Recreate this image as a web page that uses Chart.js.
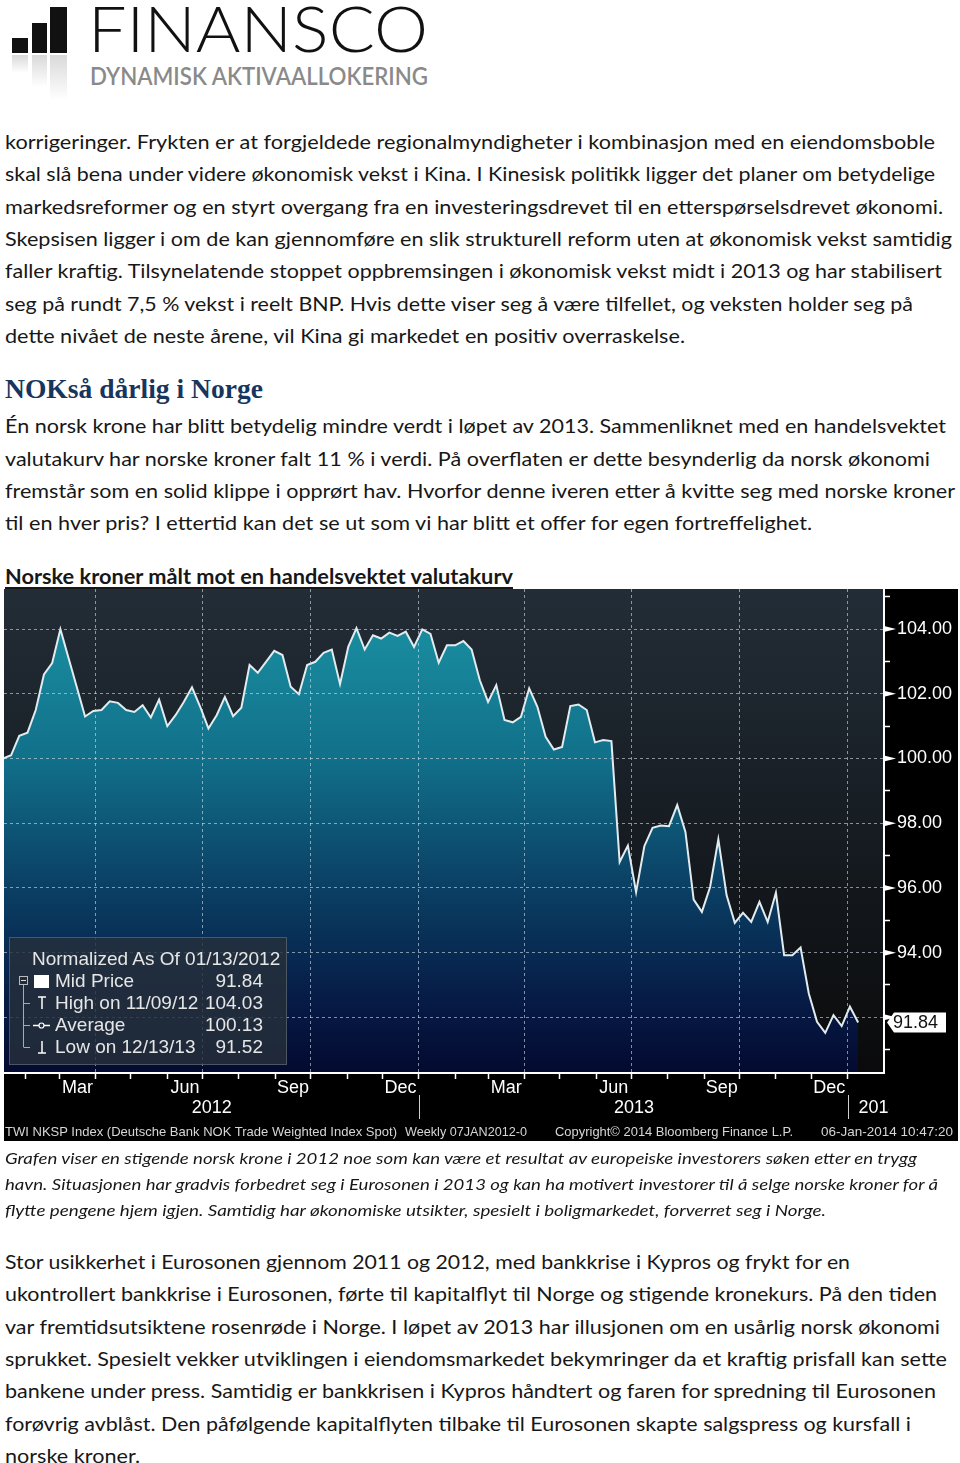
<!DOCTYPE html>
<html lang="no">
<head>
<meta charset="utf-8">
<title>Norske kroner målt mot en handelsvektet valutakurv</title>
<script src="https://cdn.jsdelivr.net/npm/chart.js@4.4.1/dist/chart.umd.min.js"></script>
<style>
  html, body { margin: 0; padding: 0; background: #fff; overflow: hidden; }
  #page { position: relative; width: 960px; height: 1463px; overflow: hidden; background: #fff; }
  .ln { position: absolute; left: 5px; white-space: nowrap; transform-origin: 0 0; color: #171717; }
  .p { font: 20px/24px Lato, "Open Sans", sans-serif; }
  .h { font: bold 27px/31px "Liberation Serif", "DejaVu Serif", serif; color: #17365d; }
  .u { font: bold 20px/24px Lato, sans-serif; text-decoration: underline; text-underline-offset: 3px; text-decoration-thickness: 2px; }
  .c { font: italic 16px/19px Lato, sans-serif; }
  .bar { position: absolute; background: #111; }
  .refl { position: absolute; background: linear-gradient(#d9d9d9, rgba(255,255,255,0)); }
  #chartBox { position: absolute; left: 4px; top: 589px; width: 954px; height: 552px; background: #000; overflow: hidden; }
  #chartBox canvas { position: absolute; left: 0; top: 0; }
  #legend { position: absolute; left: 5px; top: 348px; width: 278px; height: 128px; box-sizing: border-box;
            background: rgba(38, 48, 58, 0.82); border: 1px solid rgba(95, 105, 115, 0.7); }
  .lg { position: absolute; white-space: nowrap; font: 19px/22px "Liberation Sans", Arial, sans-serif; color: #e6e6e6; }
  .ft { position: absolute; top: 535px; white-space: nowrap; transform-origin: 0 0; font: 13px/15px "Liberation Sans", Arial, sans-serif; color: #d6d6d6; }
</style>
</head>
<body>
<div id="page">
  <!-- logo -->
  <div class="bar" style="left:12px; top:38px; width:16px; height:15px;"></div>
  <div class="bar" style="left:32px; top:23px; width:15px; height:30px;"></div>
  <div class="bar" style="left:50px; top:7px; width:17px; height:46px;"></div>
  <div class="refl" style="left:12px; top:55px; width:16px; height:18px;"></div>
  <div class="refl" style="left:32px; top:55px; width:15px; height:32px;"></div>
  <div class="refl" style="left:50px; top:55px; width:17px; height:45px;"></div>
  <div class="ln" data-w="340" style="left:88px; top:-10px; font:300 64px/76.8px Lato, sans-serif; color:#111;">FINANSCO</div>
  <div class="ln" data-w="338" style="left:90px; top:62px; font:600 24px/28.8px Lato, sans-serif; color:#8a8a8a;">DYNAMISK AKTIVAALLOKERING</div>

  <div id="chartBox">
    <canvas id="nok" width="954" height="552"></canvas>
    <div id="legend"></div>
    <svg width="954" height="552" style="position:absolute; left:0; top:0;">
      <rect x="15.5" y="387.5" width="8" height="8" fill="none" stroke="#bbb" stroke-width="1"/>
      <line x1="17" y1="391.5" x2="22" y2="391.5" stroke="#ddd" stroke-width="1"/>
      <line x1="19.5" y1="396" x2="19.5" y2="458" stroke="#aaa" stroke-width="1"/>
      <line x1="19.5" y1="414.5" x2="26" y2="414.5" stroke="#aaa" stroke-width="1"/>
      <line x1="19.5" y1="436.5" x2="26" y2="436.5" stroke="#aaa" stroke-width="1"/>
      <line x1="19.5" y1="458.5" x2="26" y2="458.5" stroke="#aaa" stroke-width="1"/>
      <rect x="30" y="386" width="15" height="13" fill="#fff"/>
      <line x1="34" y1="408" x2="42" y2="408" stroke="#fff" stroke-width="1.5"/>
      <line x1="38" y1="408" x2="38" y2="420" stroke="#fff" stroke-width="1.5"/>
      <line x1="29" y1="436.5" x2="46" y2="436.5" stroke="#fff" stroke-width="1.5"/>
      <circle cx="37.5" cy="436.5" r="2.5" fill="#26303a" stroke="#fff" stroke-width="1.2"/>
      <line x1="38" y1="452" x2="38" y2="464" stroke="#fff" stroke-width="1.5"/>
      <line x1="34" y1="464" x2="42" y2="464" stroke="#fff" stroke-width="1.5"/>
    </svg>
    <div class="ft" data-w="392" style="left:1px;">TWI NKSP Index (Deutsche Bank NOK Trade Weighted Index Spot)</div>
    <div class="ft" data-w="122" style="left:401px;">Weekly 07JAN2012-0</div>
    <div class="ft" data-w="238" style="left:551px;">Copyright© 2014 Bloomberg Finance L.P.</div>
    <div class="ft" data-w="132" style="left:817px;">06-Jan-2014 10:47:20</div>
  </div>
</div>

<script>
// ---- chart data ----
// weekly fixings of the NOK trade weighted index, normalized to 100 on 13 Jan 2012
const navValues = [
  100.00, 100.10, 100.70, 100.80, 101.50, 102.60, 102.95, 104.00, 103.10, 102.20,
  101.30, 101.47, 101.50, 101.77, 101.72, 101.50, 101.44, 101.65, 101.27, 101.82,
  101.00, 101.34, 101.75, 102.20, 101.60, 100.93, 101.34, 101.90, 101.31, 101.57,
  102.89, 102.65, 102.99, 103.33, 103.20, 102.22, 101.99, 102.89, 102.99, 103.27,
  103.37, 102.30, 103.45, 104.03, 103.37, 103.81, 103.71, 103.89, 103.79, 103.92,
  103.45, 103.99, 103.85, 102.96, 103.50, 103.50, 103.63, 103.37, 102.42, 101.75,
  102.27, 101.19, 101.12, 101.29, 102.17, 101.60, 100.67, 100.28, 100.36, 101.62,
  101.67, 101.50, 100.50, 100.57, 100.54, 96.80, 97.31, 95.87, 97.29, 97.86,
  97.93, 97.91, 98.56, 97.73, 95.64, 95.26, 96.03, 97.50, 95.78, 94.92,
  95.23, 94.95, 95.57, 94.95, 95.85, 93.92, 93.92, 94.16, 92.74, 91.86,
  91.52, 92.07, 91.73, 92.33, 91.84
];
const firstFixing = [2012, 0, 13];   // first weekly fixing
const yTickValues = [91, 92, 93, 94, 95, 96, 97, 98, 99, 100, 101, 102, 103, 104, 105];
const monthNames = ['Jan', 'Feb', 'Mar', 'Apr', 'May', 'Jun', 'Jul', 'Aug', 'Sep', 'Oct', 'Nov', 'Dec'];
const labelledMonths = ['Mar', 'Jun', 'Sep', 'Dec'];
const yearLabels = ['2012', '2013', '2014'];
const legendTitle = 'Normalized As Of 01/13/2012';
const legendRows = [
  ['Mid Price', '91.84'],
  ['High on 11/09/12', '104.03'],
  ['Average', '100.13'],
  ['Low on 12/13/13', '91.52']
];

// ---- page text ----
const textLines = [
  ['p', 141, 935, 'korrigeringer. Frykten er at forgjeldede regionalmyndigheter i kombinasjon med en eiendomsboble'],
  ['p', 173.5, 935, 'skal slå bena under videre økonomisk vekst i Kina. I Kinesisk politikk ligger det planer om betydelige'],
  ['p', 206, 943, 'markedsreformer og en styrt overgang fra en investeringsdrevet til en etterspørselsdrevet økonomi.'],
  ['p', 238, 952, 'Skepsisen ligger i om de kan gjennomføre en slik strukturell reform uten at økonomisk vekst samtidig'],
  ['p', 270.5, 942, 'faller kraftig. Tilsynelatende stoppet oppbremsingen i økonomisk vekst midt i 2013 og har stabilisert'],
  ['p', 303, 913, 'seg på rundt 7,5 % vekst i reelt BNP. Hvis dette viser seg å være tilfellet, og veksten holder seg på'],
  ['p', 335, 685, 'dette nivået de neste årene, vil Kina gi markedet en positiv overraskelse.'],
  ['h', 390, 263, 'NOKså dårlig i Norge'],
  ['p', 425, 946, 'Én norsk krone har blitt betydelig mindre verdt i løpet av 2013. Sammenliknet med en handelsvektet'],
  ['p', 458, 930, 'valutakurv har norske kroner falt 11 % i verdi. På overflaten er dette besynderlig da norsk økonomi'],
  ['p', 490, 955, 'fremstår som en solid klippe i opprørt hav. Hvorfor denne iveren etter å kvitte seg med norske kroner'],
  ['p', 522, 812, 'til en hver pris? I ettertid kan det se ut som vi har blitt et offer for egen fortreffelighet.'],
  ['u', 576, 513, 'Norske kroner målt mot en handelsvektet valutakurv'],
  ['c', 1158, 917, 'Grafen viser en stigende norsk krone i 2012 noe som kan være et resultat av europeiske investorers søken etter en trygg'],
  ['c', 1184, 938, 'havn. Situasjonen har gradvis forbedret seg i Eurosonen i 2013 og kan ha motivert investorer til å selge norske kroner for å'],
  ['c', 1210, 826, 'flytte pengene hjem igjen. Samtidig har økonomiske utsikter, spesielt i boligmarkedet, forverret seg i Norge.'],
  ['p', 1261, 850, 'Stor usikkerhet i Eurosonen gjennom 2011 og 2012, med bankkrise i Kypros og frykt for en'],
  ['p', 1293, 937, 'ukontrollert bankkrise i Eurosonen, førte til kapitalflyt til Norge og stigende kronekurs. På den tiden'],
  ['p', 1326, 940, 'var fremtidsutsiktene rosenrøde i Norge. I løpet av 2013 har illusjonen om en usårlig norsk økonomi'],
  ['p', 1358, 947, 'sprukket. Spesielt vekker utviklingen i eiendomsmarkedet bekymringer da et kraftig prisfall kan sette'],
  ['p', 1390, 936, 'bankene under press. Samtidig er bankkrisen i Kypros håndtert og faren for spredning til Eurosonen'],
  ['p', 1423, 911, 'forøvrig avblåst. Den påfølgende kapitalflyten tilbake til Eurosonen skapte salgspress og kursfall i'],
  ['p', 1455, 140, 'norske kroner.']
];
const topShift = { p: 12.5, h: 15.7, u: 12.5, c: 10 };

const page = document.getElementById('page');
textLines.forEach(([cls, mid, right, text]) => {
  const el = document.createElement('div');
  el.className = 'ln ' + cls;
  el.style.top = (mid - topShift[cls]) + 'px';
  el.dataset.w = right - 5;
  el.textContent = text;
  page.appendChild(el);
});

// legend box text
const chartBox = document.getElementById('chartBox');
function addLegendText(text, left, baseline, alignRight) {
  const el = document.createElement('div');
  el.className = 'lg';
  el.textContent = text;
  el.style.top = (baseline - 17.6) + 'px';
  if (alignRight) el.style.right = (954 - left) + 'px'; else el.style.left = left + 'px';
  chartBox.appendChild(el);
}
addLegendText(legendTitle, 28, 377);
legendRows.forEach(([label, value], i) => {
  addLegendText(label, 51, 399 + i * 22);
  addLegendText(value, 259, 399 + i * 22, true);
});

function fitAll() {
  document.querySelectorAll('[data-w]').forEach(el => {
    el.style.transform = 'none';
    const w = el.getBoundingClientRect().width;
    if (w > 0) el.style.transform = 'scaleX(' + (+el.dataset.w / w) + ')';
  });
}
fitAll();
if (document.fonts && document.fonts.ready) document.fonts.ready.then(fitAll);

// ---- axes helpers (x values are days counted from 1 Jan 2012) ----
const DAY0 = Date.UTC(2012, 0, 1);
const dayOf = (y, m, d) => (Date.UTC(y, m, d) - DAY0) / 864e5;
const startDay = dayOf(firstFixing[0], firstFixing[1], firstFixing[2]);
const points = navValues.map((v, i) => ({ x: startDay + 7 * i, y: v }));

const monthStarts = [];
for (let m = 1; m <= 24; m++) monthStarts.push({ day: dayOf(2012, m, 1), month: m % 12 });
const xTicks = [];
const labelAt = new Map();
const quarterDays = new Set();
const monthDays = new Set();
monthStarts.forEach((ms, i) => {
  xTicks.push(ms.day);
  monthDays.add(ms.day);
  if (ms.month % 3 === 0) quarterDays.add(ms.day);
  const name = monthNames[ms.month];
  if (labelledMonths.includes(name) && i + 1 < monthStarts.length) {
    const mid = (ms.day + monthStarts[i + 1].day) / 2;
    xTicks.push(mid);
    labelAt.set(mid, name);
  }
});
xTicks.sort((a, b) => a - b);
const yearStarts = [dayOf(2013, 0, 1), dayOf(2014, 0, 1)];

const AX_FONT = '"Liberation Sans", Arial, sans-serif';
const GRID = 'rgba(215, 222, 228, 0.6)';
const NONE = 'rgba(0,0,0,0)';
const lastValue = navValues[navValues.length - 1];

// keep the plot area flush with the canvas edges
function noPadding(s) {
  s.paddingTop = 0;
  s.paddingBottom = 0;
  s.paddingLeft = 0;
  s.paddingRight = 0;
}

const bloombergDecor = {
  id: 'bloombergDecor',
  beforeDraw(chart) {
    const { ctx, chartArea: a } = chart;
    const g = ctx.createLinearGradient(0, a.top, 0, a.bottom);
    g.addColorStop(0, '#232d37');
    g.addColorStop(0.5, '#161c22');
    g.addColorStop(1, '#0a0a0b');
    ctx.save();
    ctx.fillStyle = g;
    ctx.fillRect(a.left, a.top, a.right - a.left, a.bottom - a.top);
    ctx.restore();
  },
  afterDraw(chart) {
    const { ctx, chartArea: a, scales: { x, y } } = chart;
    ctx.save();
    // arrow heads on the labelled price ticks
    ctx.fillStyle = '#fff';
    yTickValues.filter(v => v % 2 === 0).forEach(v => {
      const py = y.getPixelForValue(v);
      ctx.beginPath();
      ctx.moveTo(a.right, py - 3);
      ctx.lineTo(a.right + 12, py);
      ctx.lineTo(a.right, py + 3);
      ctx.closePath();
      ctx.fill();
    });
    // last price flag
    const py = y.getPixelForValue(lastValue);
    ctx.beginPath();
    ctx.moveTo(a.right + 3, py);
    ctx.lineTo(a.right + 10, py - 10);
    ctx.lineTo(a.right + 62, py - 10);
    ctx.lineTo(a.right + 62, py + 10);
    ctx.lineTo(a.right + 10, py + 10);
    ctx.closePath();
    ctx.fillStyle = '#fff';
    ctx.fill();
    ctx.fillStyle = '#111';
    ctx.font = '18px ' + AX_FONT;
    ctx.textBaseline = 'middle';
    ctx.textAlign = 'left';
    ctx.fillText(lastValue.toFixed(2), a.right + 9, py + 1);

    // year separators and year labels
    const sepX = yearStarts.map(d => Math.round(x.getPixelForValue(d)) + 0.5);
    ctx.strokeStyle = '#cfcfcf';
    ctx.lineWidth = 1;
    sepX.forEach(sx => {
      ctx.beginPath();
      ctx.moveTo(sx, a.bottom + 22);
      ctx.lineTo(sx, a.bottom + 46);
      ctx.stroke();
    });
    ctx.fillStyle = '#fff';
    ctx.font = '18px ' + AX_FONT;
    ctx.textAlign = 'center';
    const yearY = a.bottom + 35;
    ctx.fillText(yearLabels[0], (a.left + sepX[0]) / 2, yearY);
    ctx.fillText(yearLabels[1], (sepX[0] + sepX[1]) / 2, yearY);
    ctx.beginPath();
    ctx.rect(sepX[1] + 1, a.bottom + 20, a.right + 4 - sepX[1], 30);
    ctx.clip();
    ctx.textAlign = 'left';
    ctx.fillText(yearLabels[2], sepX[1] + 10, yearY);
    ctx.restore();
  }
};

new Chart(document.getElementById('nok'), {
  type: 'line',
  data: {
    datasets: [{
      data: points,
      borderColor: '#e2ecef',
      borderWidth: 2,
      pointRadius: 0,
      tension: 0,
      fill: 'start',
      backgroundColor(c) {
        const { ctx, chartArea } = c.chart;
        if (!chartArea) return NONE;
        const g = ctx.createLinearGradient(0, chartArea.top, 0, chartArea.bottom);
        g.addColorStop(0, '#1c95a6');
        g.addColorStop(0.35, '#11708a');
        g.addColorStop(0.6, '#0b4266');
        g.addColorStop(0.85, '#061b46');
        g.addColorStop(1, '#040a30');
        return g;
      }
    }]
  },
  options: {
    responsive: false,
    animation: false,
    devicePixelRatio: 1,
    events: [],
    layout: { padding: 0 },
    plugins: { legend: { display: false }, tooltip: { enabled: false } },
    scales: {
      x: {
        type: 'linear',
        position: 'bottom',
        min: 13,
        max: 762,
        afterBuildTicks(s) { s.ticks = xTicks.map(v => ({ value: v })); },
        afterFit(s) { s.height = 68; noPadding(s); },
        ticks: {
          autoSkip: false,
          minRotation: 0,
          maxRotation: 0,
          padding: -2,
          color: '#fff',
          font: { family: AX_FONT, size: 18 },
          callback: v => labelAt.get(v) || ''
        },
        grid: {
          z: 1,
          lineWidth: 1,
          tickLength: 6,
          tickWidth: 1.5,
          color: c => (c.tick && quarterDays.has(c.tick.value) ? GRID : NONE),
          tickColor: c => (c.tick && monthDays.has(c.tick.value) ? '#fff' : NONE)
        },
        border: { display: true, color: '#fff', width: 2, dash: [3, 3], z: 2 }
      },
      y: {
        type: 'linear',
        position: 'right',
        min: 90.28,
        max: 105.24,
        afterBuildTicks(s) { s.ticks = yTickValues.map(v => ({ value: v })); },
        afterFit(s) { s.width = 74; noPadding(s); },
        ticks: {
          autoSkip: false,
          padding: 7,
          color: '#fff',
          font: c => ({ family: AX_FONT, size: c.tick && c.tick.value % 2 === 0 ? 18 : 1 }),
          callback: v => (v % 2 === 0 && Math.abs(v - lastValue) > 0.5 ? v.toFixed(2) : '')
        },
        grid: {
          z: 1,
          lineWidth: 1,
          tickLength: 6,
          tickWidth: 1.5,
          color: c => (c.tick && c.tick.value % 2 === 0 ? GRID : NONE),
          tickColor: c => (c.tick && c.tick.value % 2 !== 0 ? '#fff' : NONE)
        },
        border: { display: true, color: '#fff', width: 2, dash: [3, 3], z: 2 }
      }
    }
  },
  plugins: [bloombergDecor]
});
</script>
</body>
</html>
